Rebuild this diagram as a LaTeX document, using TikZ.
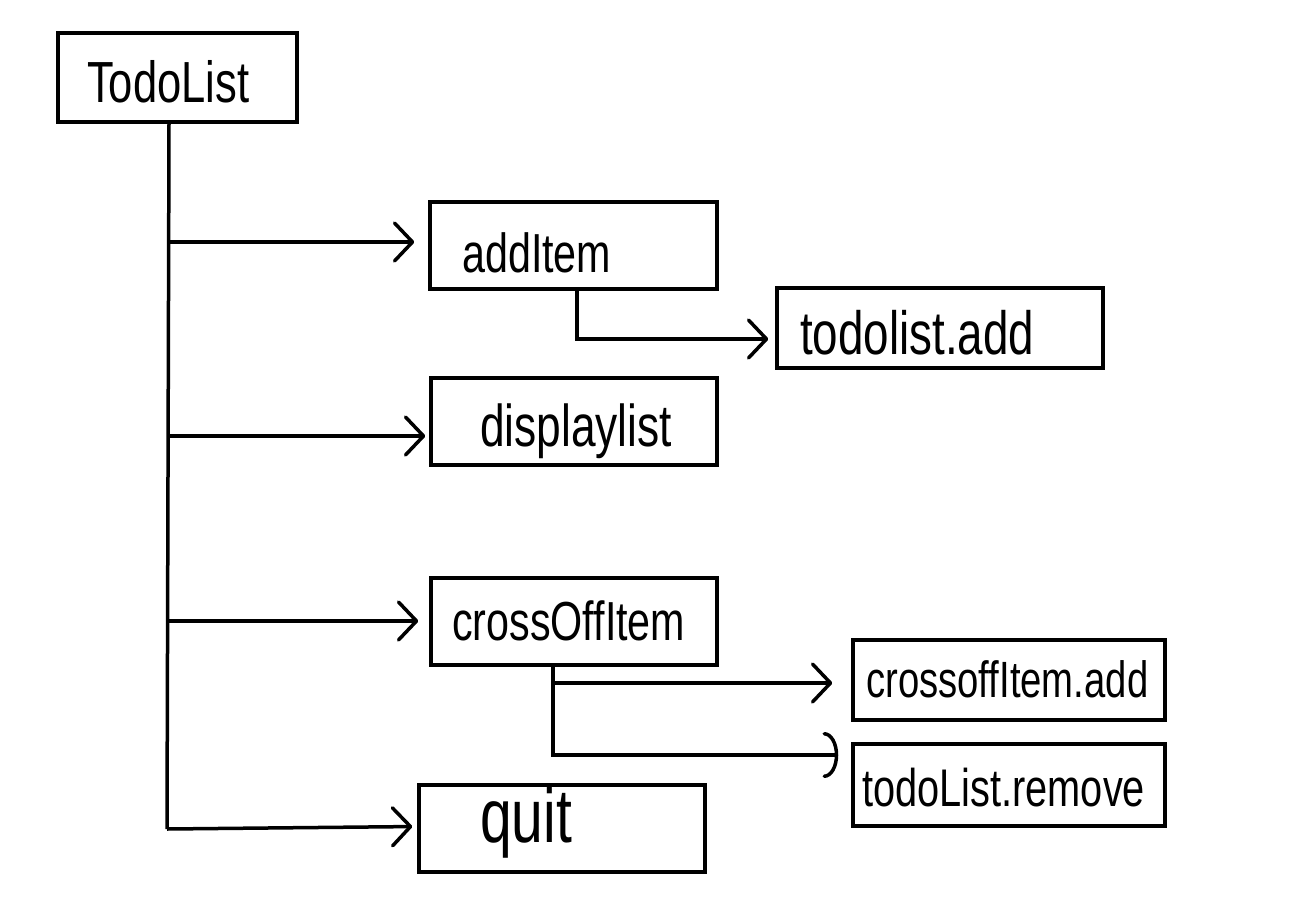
\documentclass[tikz,border=0pt]{standalone}
\usepackage{fontspec}
\newfontfamily\hand[FakeStretch=0.75]{Liberation Sans}
\usetikzlibrary{arrows.meta,calc}
\tikzset{
  box/.style={draw, line width=3.5pt, rectangle, inner sep=0pt},
  lbl/.style={anchor=base west, inner sep=0pt},
  arr/.style={line width=3.5pt, -{Straight Barb[length=18pt,width=38pt,line width=3.5pt,round]}},
  arcarr/.style={line width=3.5pt, -{Arc Barb[length=14pt,width=46pt,line width=3.5pt,round]}},
  ln/.style={line width=3.5pt},
}
\newcommand{\hf}[1]{\hand\fontsize{#1}{#1}\selectfont}
\begin{document}
\begin{tikzpicture}[x=1pt,y=-1pt]
\useasboundingbox[fill=white] (0,0) rectangle (1295,907);
% boxes
\node[box, minimum width=239pt, minimum height=89pt] (todo) at (177.5,77.5) {};
\node[box, minimum width=287pt, minimum height=87pt] (additem) at (573.5,245.5) {};
\node[box, minimum width=326pt, minimum height=80pt] (tadd) at (940,328) {};
\node[box, minimum width=286pt, minimum height=87pt] (display) at (574,421.5) {};
\node[box, minimum width=286pt, minimum height=87pt] (cross) at (574,621.5) {};
\node[box, minimum width=312pt, minimum height=80pt] (cadd) at (1009,680) {};
\node[box, minimum width=312pt, minimum height=82pt] (tremove) at (1009,785) {};
\node[box, minimum width=286pt, minimum height=87pt] (quit) at (562,828.5) {};
% labels
\node[lbl, font=\hf{58}] (ttodo) at (87,102) {TodoList};
\node[lbl, font=\hf{55}] (tadditem) at (462,272) {addItem};
\node[lbl, font=\hf{61}] (ttadd) at (800,354) {todolist.add};
\node[lbl, font=\hf{59}] (tdisplay) at (480,446) {displaylist};
\node[lbl, font=\hf{55}] (tcross) at (452,640) {crossOffItem};
\node[lbl, font=\hf{51}] (tcadd) at (866,697) {crossoffItem.add};
\node[lbl, font=\hf{53}] (ttremove) at (862,806) {todoList.remove};
\node[lbl, font=\hf{76}] (tquit) at (480,842) {quit};
% junctions
\coordinate (trunktop) at (todo.south -| 169,0);
\coordinate (b1) at (169,242);
\coordinate (b2) at (169,436);
\coordinate (b3) at (168,621);
\coordinate (b4) at (167,829);
\coordinate (a1) at (additem.south -| 577,0);
\coordinate (c1) at (cross.south -| 553,0);
% connectors
\draw[ln] (trunktop) -- (b4);
\draw[arr, shorten >=14pt] (b1) -- (b1 -| additem.west);
\draw[arr, shorten >=4pt] (b2) -- (b2 -| display.west);
\draw[arr, shorten >=11pt] (b3) -- (b3 -| cross.west);
\draw[arr, shorten >=5pt] (b4) -- ($(quit.west)+(0,-2)$);
\draw[arr, shorten >=7pt] (a1) |- ($(tadd.west)+(0,11)$);
\draw[arr, shorten >=19pt] (c1) |- ($(cadd.west)+(0,3)$);
\draw[arcarr, shorten >=13pt] (c1) |- ($(tremove.west)+(0,-30)$);
\end{tikzpicture}
\end{document}
